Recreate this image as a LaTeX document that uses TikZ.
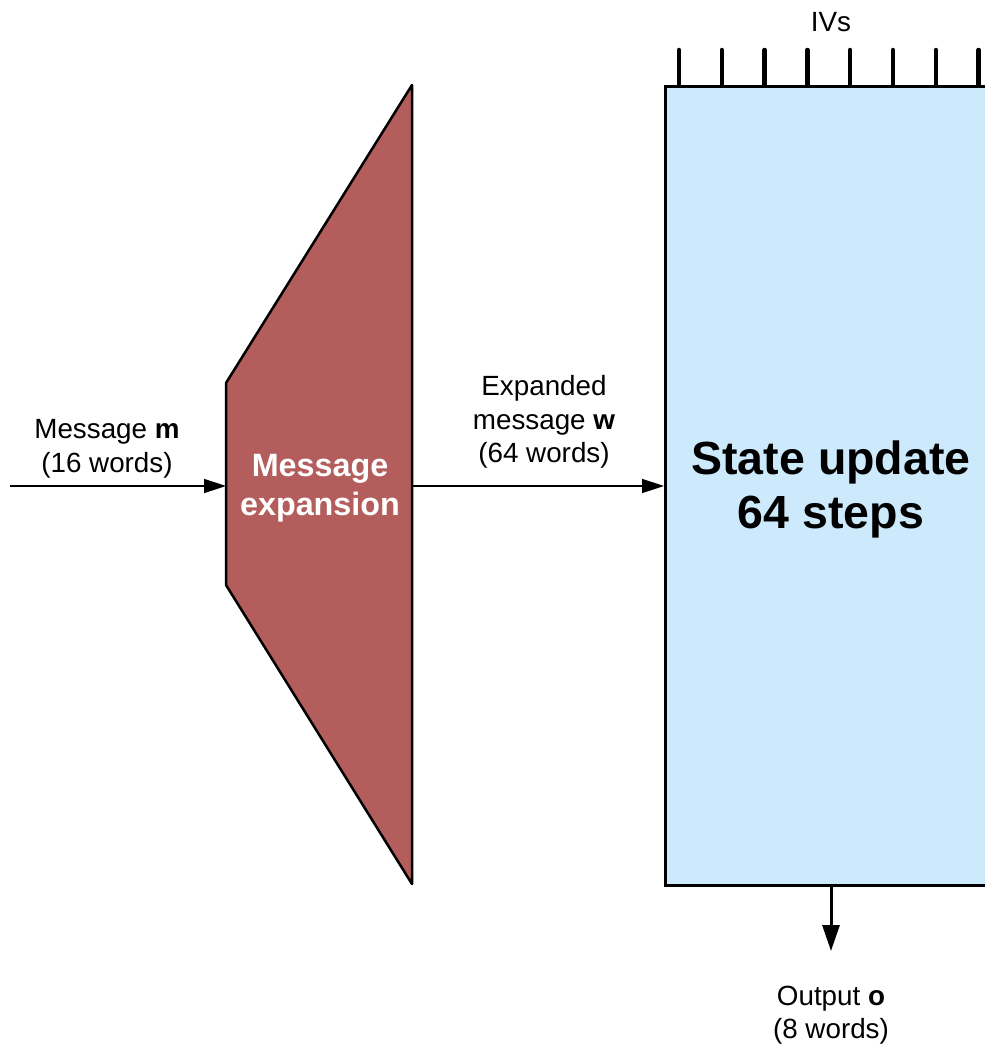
\documentclass[tikz,border=0pt]{standalone}
\usepackage{fontspec}
\setmainfont{Liberation Sans}
\usetikzlibrary{arrows.meta}
\definecolor{expfill}{RGB}{179,93,92}
\definecolor{statefill}{RGB}{204,234,252}
\tikzset{
  lbl/.style={align=center, font=\fontsize{27.8}{33.5}\selectfont, inner sep=0pt},
  thinarrow/.style={line width=1.5pt, -{Triangle[length=22pt,width=14pt]}},
  thickarrow/.style={line width=3pt, -{Triangle[length=26pt,width=17pt]}},
  ivtick/.style={line width=4.5pt, line cap=round},
}
\begin{document}
\begin{tikzpicture}[x=1pt,y=-1pt]
\useasboundingbox (0,0) rectangle (985,1044);
\clip (0,0) rectangle (985,1044);

% message expansion trapezoid
\coordinate (t1) at (412,85);
\coordinate (t2) at (412,884);
\coordinate (t3) at (226,585);
\coordinate (t4) at (226,383);
\draw[line width=2.5pt, line join=round, fill=expfill] (t4) -- (t1) -- (t2) -- (t3) -- cycle;
\node[font=\bfseries\fontsize{32.3}{39.5}\selectfont, text=white, align=center, inner sep=0pt] (exp) at (320,488) {Message\\expansion};
\coordinate (expin) at (226,486);
\coordinate (expout) at (412,486);

% state update box
\node[draw, line width=3pt, fill=statefill, minimum width=334pt, minimum height=799pt, inner sep=0pt, anchor=north west] (state) at (664,85) {};
\node[font=\bfseries\fontsize{46.5}{54}\selectfont, align=center, inner sep=0pt] (statetxt) at (831,489) {State update\\64 steps};
\coordinate (statein) at (state.west |- expout);

% initial values
\foreach \i in {0,...,7}{
  \coordinate (ivtop\i) at (679+42.8*\i,50);
  \draw[ivtick] (ivtop\i) -- (ivtop\i |- state.north);
}
\node[lbl] (ivs) at (831,22) {IVs};

% input message
\coordinate (min) at (10,486);
\draw[thinarrow] (min) -- (expin);
\node[lbl] (mlbl) at (107,449) {Message \textbf{m}\\(16 words)};

% expanded message
\draw[thinarrow] (expout) -- (statein);
\node[lbl] (wlbl) at (544,422) {Expanded\\message \textbf{w}\\(64 words)};

% output
\coordinate (oend) at (831,951);
\draw[thickarrow] (state.south -| oend) -- (oend);
\node[lbl] (olbl) at (831,1015) {Output \textbf{o}\\(8 words)};
\end{tikzpicture}
\end{document}
